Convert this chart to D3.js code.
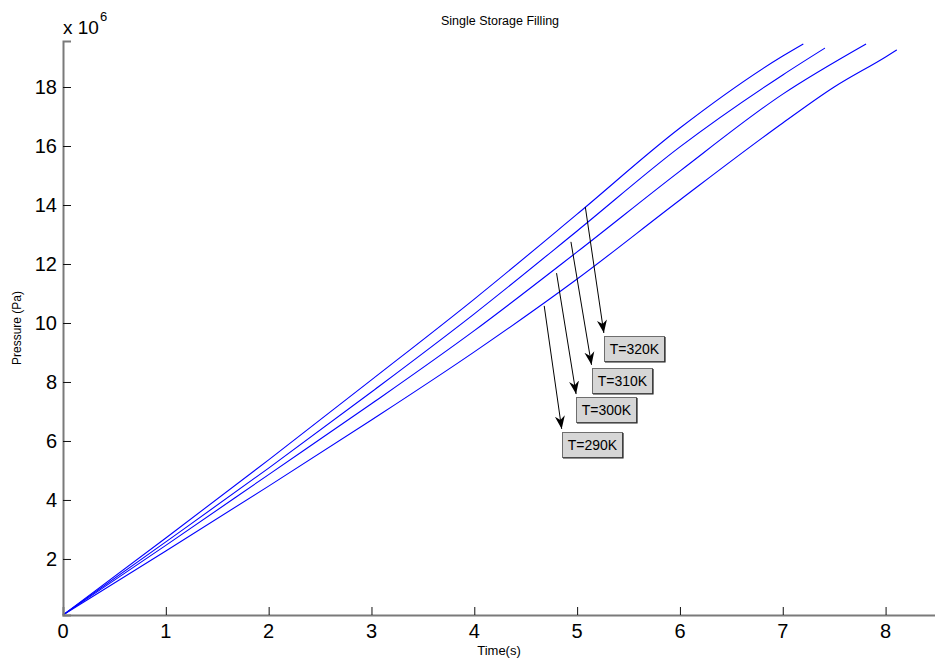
<!DOCTYPE html>
<html>
<head>
<meta charset="utf-8">
<title>Single Storage Filling</title>
<script src="https://cdn.jsdelivr.net/npm/d3@7"></script>
<style>
    body { margin: 0; background: #fff; }
    svg { display: block; font-family: "Liberation Sans", Arial, sans-serif; }
</style>
</head>
<body>
<div id="chart"></div>
<script>
// DATA (time in s, pressure in units of 1e6 Pa)
const seriesNames = ["T=320K", "T=310K", "T=300K", "T=290K"];

const time320 = [0, 1, 2, 3, 4, 5, 6, 7, 7.20];
const pres320 = [0.10, 2.71, 5.36, 8.07, 10.81, 13.69, 16.61, 19.05, 19.46];

const time310 = [0, 1, 2, 3, 4, 5, 6, 7, 7.41];
const pres310 = [0.10, 2.58, 5.08, 7.66, 10.31, 13.12, 15.97, 18.41, 19.32];

const time300 = [0, 1, 2, 3, 4, 5, 6, 7, 7.81];
const pres300 = [0.10, 2.46, 4.86, 7.26, 9.74, 12.41, 15.15, 17.76, 19.46];

const time290 = [0, 1, 2, 3, 4, 5, 6, 7, 7.5, 8, 8.11];
const pres290 = [0.10, 2.27, 4.47, 6.71, 9.02, 11.49, 14.17, 16.78, 18.00, 19.02, 19.26];

// annotation arrows: start on the curve, tip above the label box
const arrowStartT = [5.08, 4.94, 4.80, 4.68];
const arrowStartP = [13.93, 12.75, 11.69, 10.58];
const arrowTipT = [5.26, 5.14, 4.99, 4.85];
const arrowTipP = [9.66, 8.58, 7.59, 6.41];

const xTicks = [0, 1, 2, 3, 4, 5, 6, 7, 8];
const yTicks = [2, 4, 6, 8, 10, 12, 14, 16, 18];

(function() {
    'use strict';

    const width = 935;
    const height = 663;

    const marginTop = 41;
    const marginRight = -2;
    const marginBottom = 48;
    const marginLeft = 63;

    const series = [
        { name: seriesNames[0], t: time320, p: pres320 },
        { name: seriesNames[1], t: time310, p: pres310 },
        { name: seriesNames[2], t: time300, p: pres300 },
        { name: seriesNames[3], t: time290, p: pres290 }
    ];

    const notes = seriesNames.map((name, i) => ({
        name: name,
        t0: arrowStartT[i], p0: arrowStartP[i],
        t1: arrowTipT[i], p1: arrowTipP[i]
    }));

    // SVG
    const svg = d3.select("#chart")
        .append("svg")
        .attr("width", width)
        .attr("height", height);

    // X SCALE
    const x = d3.scaleLinear()
        .domain([0, 8.5])
        .range([marginLeft, width - marginRight]);

    // Y SCALE
    const y = d3.scaleLinear()
        .domain([0.1, 19.56])
        .range([height - marginBottom, marginTop]);

    // LINES
    const line = d3.line()
        .x(d => x(d[0]))
        .y(d => y(d[1]))
        .curve(d3.curveMonotoneX);

    svg.append("g")
        .selectAll("path")
        .data(series)
        .join("path")
        .attr("d", s => line(s.t.map((t, i) => [t, s.p[i]])))
        .attr("fill", "none")
        .attr("stroke", "#0000ff")
        .attr("stroke-width", 1.1);

    // X AXIS
    svg.append("g")
        .attr("transform", `translate(0, ${height - marginBottom})`)
        .call(d3.axisTop(x).tickValues(xTicks).tickSize(8).tickFormat(""))
        .call(g => g.select(".domain").attr("stroke", "#7a7a7a").attr("stroke-width", 2))
        .call(g => g.selectAll("line").attr("stroke", "#111"));

    svg.append("g")
        .selectAll("text")
        .data(xTicks)
        .join("text")
        .attr("x", d => x(d))
        .attr("y", height - marginBottom + 23)
        .attr("text-anchor", "middle")
        .attr("font-size", "20px")
        .attr("fill", "#000")
        .text(d => d);

    // Y AXIS
    svg.append("g")
        .attr("transform", `translate(${marginLeft}, 0)`)
        .call(d3.axisRight(y).tickValues(yTicks).tickSize(8).tickFormat(""))
        .call(g => g.select(".domain").attr("stroke", "#7a7a7a").attr("stroke-width", 2))
        .call(g => g.selectAll("line").attr("stroke", "#111"));

    svg.append("g")
        .selectAll("text")
        .data(yTicks)
        .join("text")
        .attr("x", marginLeft - 6)
        .attr("y", d => y(d) + 7)
        .attr("text-anchor", "end")
        .attr("font-size", "20px")
        .attr("fill", "#000")
        .text(d => d);

    // exponent label
    const expo = svg.append("text")
        .attr("x", marginLeft)
        .attr("y", 34)
        .attr("font-size", "19px")
        .attr("fill", "#000");
    expo.append("tspan").text("x 10");
    expo.append("tspan")
        .attr("dy", -13)
        .attr("dx", 1)
        .attr("font-size", "13px")
        .text("6");

    // ANNOTATIONS
    svg.append("defs")
        .append("marker")
        .attr("id", "head")
        .attr("viewBox", "-13 -6 15 12")
        .attr("refX", 0)
        .attr("refY", 0)
        .attr("markerWidth", 15)
        .attr("markerHeight", 12)
        .attr("markerUnits", "userSpaceOnUse")
        .attr("orient", "auto")
        .append("path")
        .attr("d", "M0,0 L-13,-5 L-9,0 L-13,5 Z")
        .attr("fill", "#000");

    svg.append("g")
        .selectAll("line")
        .data(notes)
        .join("line")
        .attr("x1", d => x(d.t0))
        .attr("y1", d => y(d.p0))
        .attr("x2", d => x(d.t1))
        .attr("y2", d => y(d.p1))
        .attr("stroke", "#000")
        .attr("stroke-width", 1)
        .attr("marker-end", "url(#head)");

    const boxes = svg.append("g")
        .selectAll("g")
        .data(notes)
        .join("g")
        .attr("transform", d => `translate(${Math.round(x(d.t1))}, ${Math.round(y(d.p1)) + 3})`);

    boxes.append("rect")
        .attr("x", 0.5)
        .attr("y", 0.5)
        .attr("width", 60)
        .attr("height", 25)
        .attr("fill", "#d6d6d6")
        .attr("stroke", "#6e6e6e")
        .attr("stroke-width", 1);

    // darker right and bottom edge
    boxes.append("path")
        .attr("d", "M61,1 L61,26 L1,26")
        .attr("fill", "none")
        .attr("stroke", "#222")
        .attr("stroke-width", 1.2);

    boxes.append("text")
        .attr("x", 30.5)
        .attr("y", 18)
        .attr("text-anchor", "middle")
        .attr("font-size", "14px")
        .attr("fill", "#000")
        .text(d => d.name);

    // TITLE AND AXIS LABELS
    svg.append("text")
        .attr("x", 500)
        .attr("y", 25)
        .attr("text-anchor", "middle")
        .attr("font-size", "12.5px")
        .attr("fill", "#000")
        .text("Single Storage Filling");

    svg.append("text")
        .attr("x", 499)
        .attr("y", 655)
        .attr("text-anchor", "middle")
        .attr("font-size", "13px")
        .attr("fill", "#000")
        .text("Time(s)");

    svg.append("text")
        .attr("transform", `translate(21, ${(marginTop + height - marginBottom) / 2}) rotate(-90)`)
        .attr("text-anchor", "middle")
        .attr("font-size", "12px")
        .attr("fill", "#000")
        .text("Pressure (Pa)");

})();
</script>
</body>
</html>
